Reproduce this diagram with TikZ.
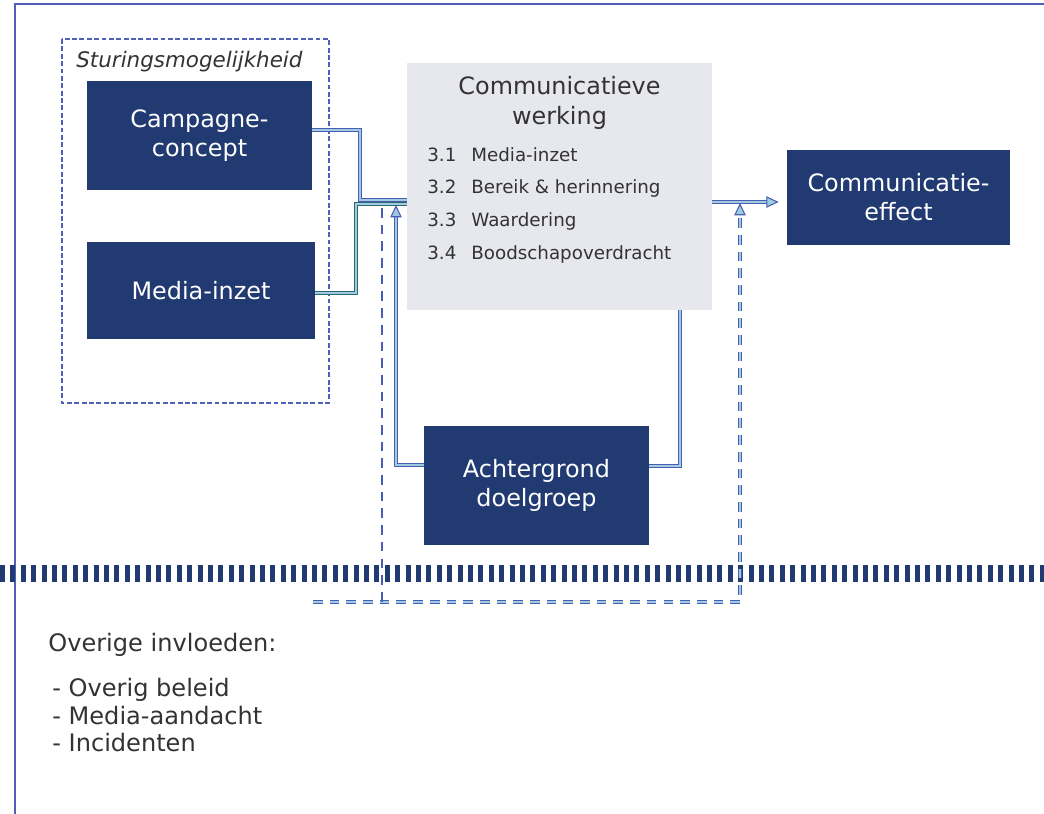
\documentclass[tikz,border=0pt]{standalone}
\usepackage{fontspec}
\setmainfont{DejaVu Sans}
\usetikzlibrary{arrows.meta, positioning}

\definecolor{navy}{RGB}{33,58,114}
\definecolor{panelgray}{RGB}{231,232,237}
\definecolor{linkblue}{RGB}{72,94,180}
\definecolor{linkteal}{RGB}{45,105,115}
\definecolor{linkfill}{RGB}{160,202,222}
\definecolor{frameblue}{RGB}{80,96,184}
\definecolor{textgray}{RGB}{51,51,51}

\begin{document}
\begin{tikzpicture}[
x=0.02cm, y=-0.02cm,
darkbox/.style={
rectangle,
fill=navy,
text=white,
inner sep=0 pt,
align=center,
font=\fontsize{13.6}{16.5}\selectfont,
},
link/.style={
draw=linkblue,
line width=0.6pt,
double=linkfill,
double distance=1.5pt,
},
linktip/.style={-{Triangle[length=7pt, width=6.5pt, fill=linkfill]}},
dashlink/.style={link, dash pattern=on 5.5pt off 4pt},
]

\useasboundingbox (0,0) rectangle (1044,814);

% frame
\draw[frameblue, line width=1.2pt] (15,814) -- (15,4) -- (1044,4);

% steering options
\draw[frameblue, line width=1.1pt, dash pattern=on 2.8pt off 1.4pt]
(62,39) rectangle (329,403);
\node[anchor=west, inner sep=0 pt, text=textgray,
font=\itshape\fontsize{12.2}{14}\selectfont] at (76,62) (sturing)
{Sturingsmogelijkheid};

% boxes
\node[darkbox, minimum width=4.5cm, minimum height=2.18cm]
at (199.5,135.5) (campagne) {Campagne-\\concept};
\node[darkbox, minimum width=4.56cm, minimum height=1.94cm]
at (201,290.5) (media) {Media-inzet};
\node[rectangle, fill=panelgray, minimum width=6.1cm, minimum height=4.94cm]
at (559.5,186.5) (werking) {};
\node[darkbox, minimum width=4.46cm, minimum height=1.9cm]
at (898.5,197.5) (effect) {Communicatie-\\effect};
\node[darkbox, minimum width=4.5cm, minimum height=2.38cm]
at (536.5,485.5) (achtergrond) {Achtergrond\\doelgroep};

% text in the grey panel
\path
(559.5,103) node[align=center, text=textgray,
font=\fontsize{13.6}{17}\selectfont] (titel) {Communicatieve\\werking}
;
\path[every node/.style={anchor=west, inner sep=0 pt, text=textgray,
text height=1.6ex, text depth=0.3ex, font=\fontsize{10.4}{12}\selectfont}]
(427,155) node (n1) {3.1} (471,155) node (i1) {Media-inzet}
(427,187) node (n2) {3.2} (471,187) node (i2) {Bereik \& herinnering}
(427,220) node (n3) {3.3} (471,220) node (i3) {Waardering}
(427,253) node (n4) {3.4} (471,253) node (i4) {Boodschapoverdracht}
;

% divider
\draw[navy, line width=0.34cm, dash pattern=on 0.1cm off 0.108cm]
(0,573.5) coordinate(d1) -- (1044,573.5) coordinate(d2);

% connectors
\coordinate (joinA) at (360,200);
\coordinate (joinB) at (356,204);
\draw[link] ([yshift=0.11cm]campagne.east) -| (joinA) -- (joinA -| werking.west);
\draw[link, draw=linkteal] ([yshift=-0.05cm]media.east) -| (joinB)
-- (joinB -| werking.west);
\draw[link, linktip] ([yshift=0.41cm]achtergrond.west) -| (396,205);
\draw[link] ([yshift=0.39cm]achtergrond.east) -| ([xshift=2.41cm]werking.south);
\draw[link, linktip, shorten >=0.16cm] ([yshift=-0.31cm]werking.east)
-- ([yshift=-0.31cm]werking.east -| effect.west);

% outside influences
\coordinate (fbA) at (313,602);
\coordinate (fbB) at (740,203);
\draw[dashlink, linktip] (fbA) -| (fbB);
\draw[linkblue, line width=0.8pt, dash pattern=on 5.5pt off 4pt]
(382,208) coordinate(v1) -- (382,605) coordinate(v2);

\node[anchor=west, inner sep=0 pt, text=textgray,
font=\fontsize{13.7}{15}\selectfont] at (48,645) (overig)
{Overige invloeden:};
\node[anchor=north west, inner sep=0 pt, align=left, text=textgray,
font=\fontsize{13.7}{15.6}\selectfont] at (52,678) (lijst)
{- Overig beleid\\- Media-aandacht\\- Incidenten};

\end{tikzpicture}
\end{document}
